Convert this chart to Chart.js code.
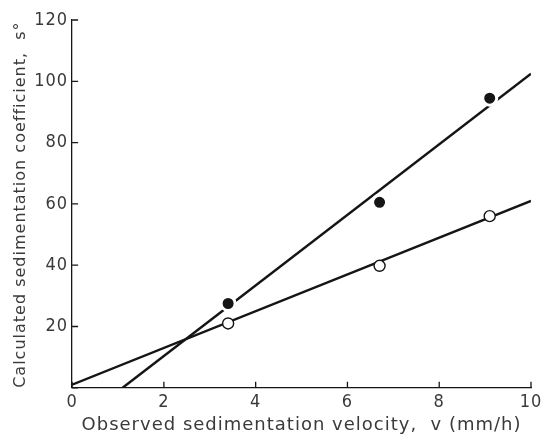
<!DOCTYPE html>
<html>
<head>
<meta charset="utf-8">
<script src="https://cdn.jsdelivr.net/npm/chart.js@4.4.1/dist/chart.umd.min.js"></script>
<style>
  html, body { margin: 0; padding: 0; background: #fff; }
  #wrap { width: 541px; height: 436px; }
</style>
</head>
<body>
<div id="wrap"><canvas id="c"></canvas></div>
<script>
// measured points (velocity in mm/h, s in S)
var velocity = [3.4, 6.7, 9.1];
var filledS = [27.5, 60.5, 94.5];
var openS = [21, 39.8, 56];

// fitted straight lines, given by their end points
var steepFitX = [1.1, 10];
var steepFitY = [0, 102.5];
var shallowFitX = [0, 10];
var shallowFitY = [1, 61];

var xTicks = [0, 2, 4, 6, 8, 10];
var yTicks = [0, 20, 40, 60, 80, 100, 120];

var ink = '#151515';
var textInk = '#3a3a3a';

function pairs(xs, ys) {
    return xs.map(function (x, i) { return { x: x, y: ys[i] }; });
}

// spacing between letters, like the old typeset labels
var spacing = {
    id: 'spacing',
    beforeLayout: function (chart) { chart.ctx.letterSpacing = '1px'; },
    beforeDraw: function (chart) { chart.ctx.letterSpacing = '1px'; }
};

// short tick marks pointing into the plot
var inwardTicks = {
    id: 'inwardTicks',
    afterDraw: function (chart) {
        var ctx = chart.ctx;
        var xs = chart.scales.x, ys = chart.scales.y;
        var len = 6;
        ctx.save();
        ctx.strokeStyle = ink;
        ctx.lineWidth = 1.3;
        ctx.beginPath();
        xTicks.forEach(function (v) {
            var px = xs.getPixelForValue(v);
            ctx.moveTo(px, ys.bottom);
            ctx.lineTo(px, ys.bottom - len);
        });
        yTicks.forEach(function (v) {
            var py = ys.getPixelForValue(v);
            ctx.moveTo(xs.left, py);
            ctx.lineTo(xs.left + len, py);
        });
        ctx.stroke();
        ctx.restore();
    }
};

var tickFont = { family: "'DejaVu Sans Condensed', 'DejaVu Sans', sans-serif", size: 18 };

new Chart(document.getElementById('c'), {
    type: 'scatter',
    data: {
        datasets: [
            {
                type: 'line',
                data: pairs(steepFitX, steepFitY),
                borderColor: ink,
                borderWidth: 2.4,
                pointRadius: 0,
                order: 3
            },
            {
                type: 'line',
                data: pairs(shallowFitX, shallowFitY),
                borderColor: ink,
                borderWidth: 2.4,
                pointRadius: 0,
                order: 3
            },
            {
                data: pairs(velocity, filledS),
                backgroundColor: ink,
                borderColor: '#fff',
                borderWidth: 3,
                pointRadius: 7,
                order: 1
            },
            {
                data: pairs(velocity, openS),
                backgroundColor: '#fff',
                borderColor: ink,
                borderWidth: 1.4,
                pointRadius: 5.5,
                order: 1
            }
        ]
    },
    options: {
        responsive: true,
        maintainAspectRatio: false,
        animation: false,
        layout: { padding: { left: 0, top: 20, right: 0, bottom: 0 } },
        plugins: {
            legend: { display: false },
            tooltip: { enabled: false }
        },
        scales: {
            x: {
                type: 'linear',
                min: 0,
                max: 10,
                afterBuildTicks: function (s) { s.ticks = xTicks.map(function (v) { return { value: v }; }); },
                // the "10" label runs to the page edge, as in the original
                afterFit: function (s) { s.paddingRight = 9; },
                grid: { display: false, drawTicks: false },
                border: { display: true, color: ink, width: 1.3 },
                ticks: { color: textInk, font: tickFont, padding: 4, maxRotation: 0 },
                title: {
                    display: true,
                    text: 'Observed sedimentation velocity,  v (mm/h)',
                    color: textInk,
                    font: { family: "'DejaVu Sans', sans-serif", size: 18 },
                    padding: { top: -3, bottom: 0 }
                }
            },
            y: {
                type: 'linear',
                min: 0,
                max: 120,
                afterBuildTicks: function (s) { s.ticks = yTicks.map(function (v) { return { value: v }; }); },
                grid: { display: false, drawTicks: false },
                border: { display: true, color: ink, width: 1.3 },
                ticks: {
                    color: textInk,
                    font: tickFont,
                    padding: 4,
                    callback: function (v) { return v === 0 ? '' : v; }
                },
                title: {
                    display: true,
                    align: 'start',
                    text: 'Calculated sedimentation coefficient,  s°',
                    color: textInk,
                    font: { family: "'DejaVu Sans', sans-serif", size: 16 },
                    padding: { top: 11, bottom: 0 }
                }
            }
        }
    },
    plugins: [spacing, inwardTicks]
});
</script>
</body>
</html>
